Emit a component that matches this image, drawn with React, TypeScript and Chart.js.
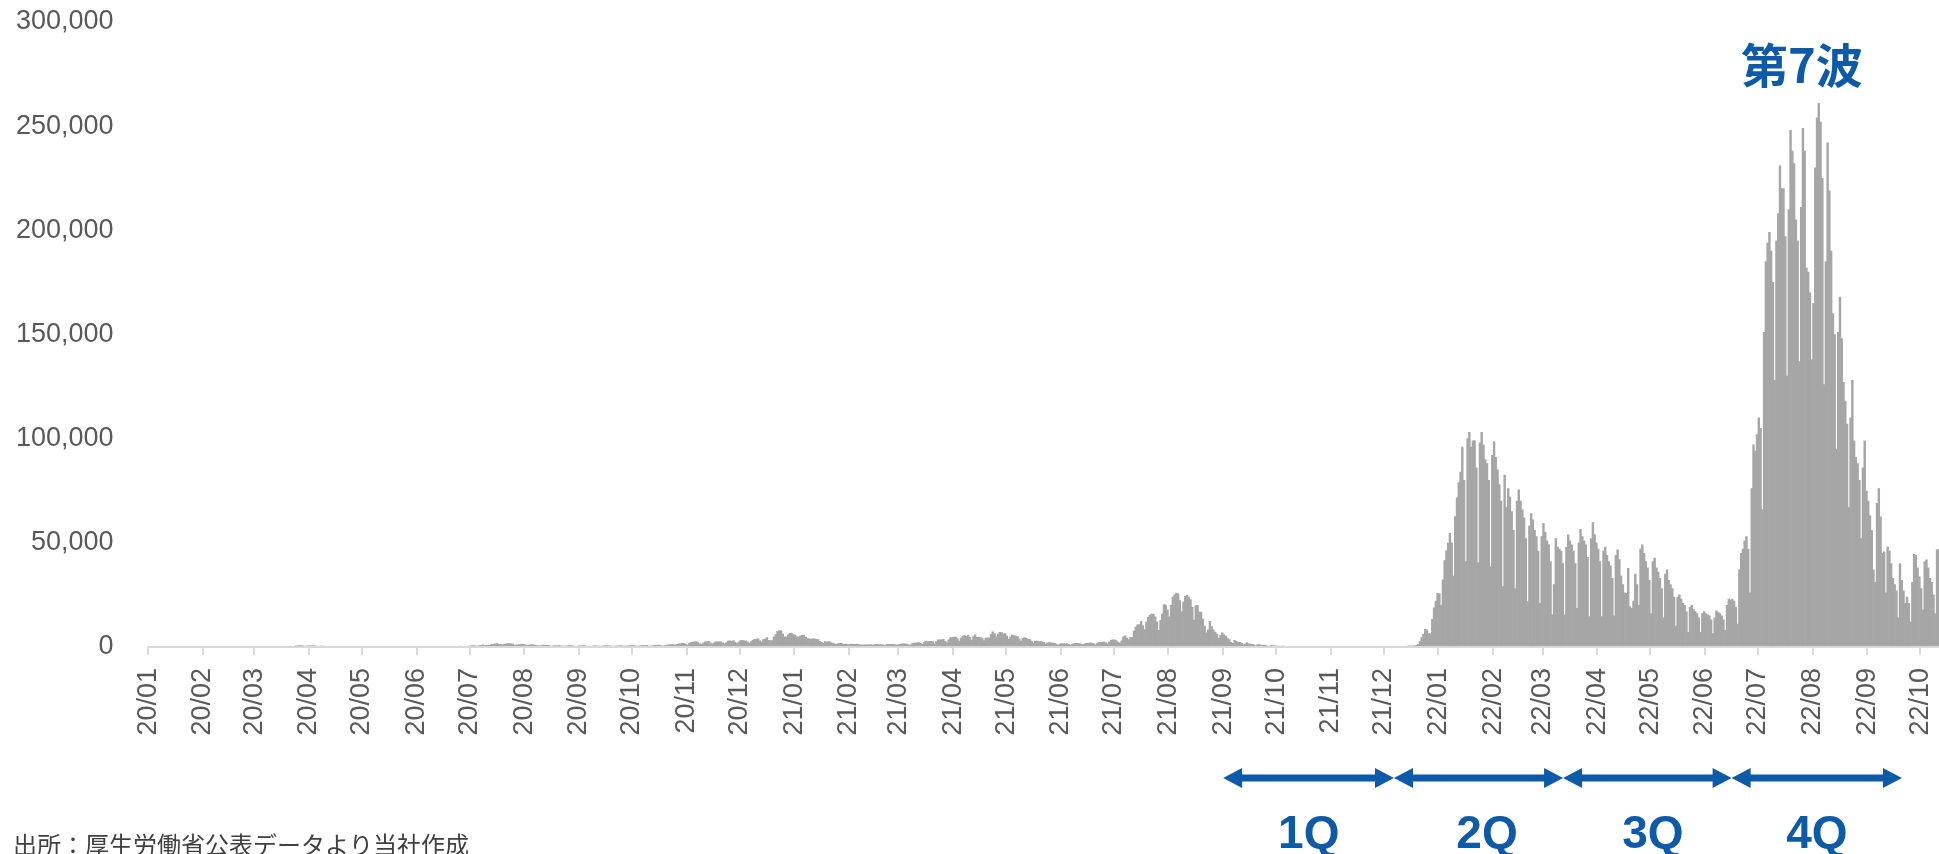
import React, { useEffect, useRef } from "react";
import { Chart, registerables } from "chart.js";

Chart.register(...registerables);
Chart.defaults.font.family = "'Liberation Sans', Arial, sans-serif";

// ---- axis / annotation texts ----
const monthLabels = [
  "20/01", "20/02", "20/03", "20/04", "20/05", "20/06", "20/07", "20/08", "20/09", "20/10", "20/11", "20/12",
  "21/01", "21/02", "21/03", "21/04", "21/05", "21/06", "21/07", "21/08", "21/09", "21/10", "21/11", "21/12",
  "22/01", "22/02", "22/03", "22/04", "22/05", "22/06", "22/07", "22/08", "22/09", "22/10",
];
const quarterLabels = ["1Q", "2Q", "3Q", "4Q"];
// arrow boundaries / label centres, in day-slots from the axis start
const quarterBounds = [609, 705.8, 801.6, 897.1, 993.6];
const quarterLabelPos = [657.5, 758.5, 852.5, 945.4];
const waveLabel = "第7波";
const waveLabelPos = 936.9;
const sourceNote = "出所：厚生労働省公表データより当社作成";

// ---- daily new cases (first value = 2020/01/16) ----
const jan20 = [1, 0, 0, 0, 0, 0, 0, 1, 1, 0, 1, 2, 1, 4, 1, 2];
const feb20 = [1, 2, 0, 1, 3, 10, 1, 0, 1, 0, 1, 3, 4, 1, 6, 7, 2, 6, 4, 8, 12, 10, 5, 3, 10, 13, 19, 19, 8];
const mar20 = [13, 18, 15, 31, 30, 38, 47, 26, 33, 26, 54, 56, 52, 42, 63, 15, 45, 38, 39, 36, 44, 39, 38, 65, 93, 96, 112, 200, 173, 86, 225];
const apr20 = [266, 235, 353, 368, 383, 252, 351, 515, 576, 644, 720, 507, 391, 455, 549, 583, 576, 584, 568, 373, 378, 440, 424, 436, 345, 201, 175, 259, 202, 136];
const may20 = [164, 304, 201, 124, 119, 94, 111, 85, 111, 95, 39, 80, 53, 58, 100, 38, 30, 33, 27, 45, 27, 29, 26, 21, 21, 27, 35, 72, 48, 45, 45];
const jun20 = [37, 51, 47, 44, 51, 39, 44, 38, 42, 37, 41, 46, 68, 72, 43, 50, 39, 68, 69, 55, 56, 35, 37, 55, 47, 100, 91, 108, 87, 120];
const jul20 = [123, 127, 200, 260, 206, 108, 180, 206, 238, 425, 296, 249, 206, 351, 397, 469, 668, 662, 513, 417, 626, 794, 983, 719, 860, 852, 836, 1264, 1258, 1580, 1587];
const aug20 = [1364, 1238, 956, 1235, 1353, 1598, 1605, 1566, 1440, 808, 1030, 983, 1179, 1360, 1227, 1011, 627, 946, 1072, 1049, 1029, 778, 733, 563, 708, 890, 848, 768, 779, 608, 440];
const sep20 = [578, 698, 615, 663, 550, 419, 398, 476, 505, 647, 649, 608, 437, 314, 482, 517, 582, 650, 504, 349, 256, 261, 461, 591, 565, 480, 440, 265, 515, 577];
const oct20 = [623, 522, 602, 472, 337, 490, 585, 612, 676, 557, 458, 432, 570, 541, 689, 654, 622, 476, 424, 584, 641, 749, 696, 753, 498, 471, 589, 661, 809, 747, 893];
const nov20 = [630, 491, 704, 622, 1036, 1148, 1309, 1221, 957, 1271, 1546, 1659, 1706, 1735, 1437, 949, 1694, 2201, 2386, 2427, 2596, 2168, 1517, 1227, 1927, 2497, 2508, 2684, 2061, 1434];
const dec20 = [2031, 2428, 2514, 2430, 2510, 2029, 1492, 2032, 2815, 2971, 2772, 3039, 2379, 1680, 2383, 3108, 3211, 2992, 2941, 2504, 1809, 2658, 3243, 3741, 3823, 3880, 2948, 2395, 3570, 3852, 4520];

const jan21 = [3251, 3044, 3136, 4875, 6001, 7570, 7882, 7790, 6189, 4885, 4922, 5789, 6597, 6556, 5993, 5754, 4900, 4928, 5320, 5626, 5655, 4727, 3983, 3980, 3853, 3962, 3946, 3720, 3524, 2697, 2270];
const feb21 = [1792, 2632, 2344, 2573, 2367, 1933, 1602, 1248, 1564, 1708, 1778, 1354, 1372, 1364, 1018, 1316, 1404, 1285, 1307, 1367, 1170, 1081, 923, 1021, 1077, 1025, 1035, 1191];
const mar21 = [908, 1174, 1230, 1174, 1115, 1062, 990, 651, 1315, 1321, 1286, 1320, 1290, 1055, 958, 1289, 1418, 1474, 1473, 1366, 1117, 819, 1518, 1895, 1917, 2049, 2086, 1785, 1241, 2088, 2842];
const apr21 = [2612, 2765, 2771, 2461, 1575, 2650, 3449, 3451, 3453, 3697, 2778, 2099, 3445, 4563, 4568, 4801, 4800, 4097, 2861, 4341, 5269, 5500, 5116, 5605, 4606, 3310, 5041, 5822, 4670, 4671];
const may21 = [4629, 4038, 3114, 4314, 4407, 4358, 6054, 7244, 6477, 4921, 6217, 7055, 6872, 6271, 6413, 5235, 3662, 4894, 5736, 5534, 5267, 4999, 3841, 2892, 4154, 4534, 4144, 3690, 3564, 2800, 1903];
const jun21 = [2740, 2889, 2625, 2681, 2533, 2211, 1427, 1956, 2072, 1943, 1937, 1940, 1398, 974, 1453, 1634, 1556, 1517, 1598, 1299, 934, 1427, 1683, 1747, 1711, 1601, 1376, 1148, 1553, 1762];
const jul21 = [1763, 2000, 1822, 1653, 1034, 1600, 2183, 2211, 2259, 2435, 1959, 1511, 2383, 3190, 3417, 3411, 3055, 2327, 1809, 3016, 4941, 5397, 4224, 3574, 4692, 4692, 7629, 9576, 10693, 10743, 12341];
const aug21 = [10187, 8392, 12000, 14207, 15263, 15753, 15753, 14472, 12065, 7950, 12854, 15810, 20366, 20151, 17828, 14423, 19947, 23909, 25150, 25876, 25492, 22243, 16825, 21534, 24326, 24972, 24046, 22746, 19003, 12929, 19849];
const sep21 = [20017, 16763, 16741, 13410, 10081, 6771, 8205, 12379, 9744, 8219, 7175, 6223, 4141, 5718, 6753, 5786, 5197, 4146, 3570, 2215, 1797, 3229, 2676, 2091, 2221, 1717, 1128, 1431, 2129, 1577];
const oct21 = [1436, 1306, 1034, 620, 1134, 1128, 879, 798, 768, 636, 372, 609, 755, 609, 505, 472, 429, 232, 391, 442, 368, 343, 308, 311, 155, 274, 294, 238, 277, 230, 219];
const nov21 = [87, 140, 155, 163, 155, 165, 161, 104, 120, 200, 188, 197, 145, 134, 78, 136, 163, 148, 134, 159, 109, 50, 88, 77, 118, 113, 144, 124, 84, 131];
const dec21 = [134, 122, 121, 140, 113, 89, 120, 151, 162, 167, 179, 144, 99, 158, 163, 193, 145, 180, 171, 105, 265, 268, 278, 260, 242, 185, 186, 276, 389, 502, 436];

const jan22 = [534, 554,
  782, 1265, 2638, 4475, 6214, 8480, 8249,
  6438, 6377, 13244, 18860, 22045, 25742, 25631,
  20000, 32197, 41485, 46199, 49854, 54576, 50000,
  34000, 62600, 71600, 78900, 84000, 96000, 80000,
  41000];
const feb22 = [100000, 103000, 96000, 99000, 99000, 86000,
  40500, 98000, 103000, 97000, 90000, 88000, 80000,
  38600, 92000, 98600, 91000, 85000, 78000, 70000,
  29000, 82500, 67000, 76000, 72000, 65000, 56000,
  28000];
const mar22 = [70000, 75400, 70000, 66000, 62000, 52000,
  21800, 58000, 64000, 61000, 56000, 53000, 46000,
  21000, 53000, 59400, 55000, 51000, 49000, 41000,
  15400, 30000, 52000, 48000, 47000, 46000, 40000,
  15400, 48000, 53800, 51000];
const apr22 = [49000, 46000, 40000,
  18600, 50000, 56500, 53000, 51000, 49000, 43000,
  14600, 52000, 59700, 54000, 50000, 47000, 41000,
  14600, 46000, 48000, 44000, 41000, 39000, 33000,
  15000, 44000, 46600, 42000, 34000, 30000];
const may22 = [26000,
  25800, 37800, 19400, 18600, 22000, 35000, 30000,
  20000, 47000, 49000, 45000, 41000, 38000, 32000,
  16000, 41000, 42700, 38000, 36000, 33000, 28000,
  14000, 35000, 37000, 32000, 30000, 28000, 24000,
  10000, 24000];
const jun22 = [25000, 23000, 21000, 20000, 17000,
  7000, 19000, 20000, 18000, 17000, 16000, 14000,
  7000, 16000, 17000, 16000, 15500, 15000, 13000,
  6500, 14000, 17400, 16500, 16000, 15000, 13000,
  8000, 20000, 23000, 22500];
const jul22 = [23000, 22000, 19000,
  11000, 37000, 45000, 47000, 51000, 53000, 47000,
  26000, 76000, 97000, 94000, 102000, 110000, 105000,
  66000, 151000, 185000, 194000, 199000, 190000, 175000,
  128000, 195000, 208000, 231000, 220000, 220000, 197000];
const aug22 = [130000, 210000, 248000, 238000, 232000, 205000, 195000,
  137000, 211000, 249000, 238000, 182000, 180000, 170000,
  138000, 165000, 230000, 254000, 261000, 252000, 225000,
  126000, 185000, 242000, 219000, 190000, 160000, 150000,
  95000, 151000, 168000];
const sep22 = [148000, 127000, 118000, 107000,
  67000, 110000, 128000, 99000, 91000, 88000, 80000,
  52000, 86000, 99000, 75000, 70000, 63000, 56000,
  37000, 31000, 69000, 76000, 62500, 45000, 45700,
  26000, 48000, 46000, 40000, 33000];
const oct22 = [30000, 27000,
  14000, 40000, 32000, 27000, 21000, 24000, 21000,
  12000, 31000, 44500, 44000, 38000, 33700, 28000,
  17800, 41000, 41800, 38000, 33000, 31000, 25000,
  16000, 46600, 47000, 45000];

const monthlyCases = [
  jan20, feb20, mar20, apr20, may20, jun20, jul20, aug20, sep20, oct20, nov20, dec20,
  jan21, feb21, mar21, apr21, may21, jun21, jul21, aug21, sep21, oct21, nov21, dec21,
  jan22, feb22, mar22, apr22, may22, jun22, jul22, aug22, sep22, oct22,
];
const dailyCases: number[] = monthlyCases.flat();

const yMax = 300000;
const yStep = 50000;
const xVisibleSlots = 1014.6;

const DAY = 86400000;
const tickPositions = monthLabels.map((l) => {
  const yy = 2000 + parseInt(l.slice(0, 2), 10);
  const mm = parseInt(l.slice(3, 5), 10) - 1;
  return (Date.UTC(yy, mm, 1) - Date.UTC(2020, 0, 1)) / DAY;
});

const W = 1939;
const H = 854;
const BLUE = "#0d5aa9";

const annotationPlugin = {
  id: "annotations",
  afterDraw(chart: any) {
    const { ctx } = chart;
    const xs = chart.scales.x;
    ctx.save();
    const y = 778;
    const head = 19;
    const halfH = 10;
    const shaft = 7;
    ctx.fillStyle = BLUE;
    for (let q = 0; q < quarterLabels.length; q++) {
      const a = xs.getPixelForValue(quarterBounds[q]);
      const b = xs.getPixelForValue(quarterBounds[q + 1]);
      ctx.fillRect(a + head - 1, y - shaft / 2, b - a - 2 * head + 2, shaft);
      ctx.beginPath();
      ctx.moveTo(a, y);
      ctx.lineTo(a + head, y - halfH);
      ctx.lineTo(a + head, y + halfH);
      ctx.closePath();
      ctx.fill();
      ctx.beginPath();
      ctx.moveTo(b, y);
      ctx.lineTo(b - head, y - halfH);
      ctx.lineTo(b - head, y + halfH);
      ctx.closePath();
      ctx.fill();
      ctx.font = "bold 46px 'Liberation Sans', Arial, sans-serif";
      ctx.textAlign = "center";
      ctx.textBaseline = "alphabetic";
      ctx.fillText(quarterLabels[q], xs.getPixelForValue(quarterLabelPos[q]), 848);
    }

    ctx.font = "bold 47px 'Noto Sans CJK JP', sans-serif";
    ctx.textAlign = "center";
    ctx.textBaseline = "middle";
    ctx.fillText(waveLabel, xs.getPixelForValue(waveLabelPos), 65);

    ctx.fillStyle = "#404040";
    ctx.font = "24px 'Noto Sans CJK JP', sans-serif";
    ctx.textAlign = "left";
    ctx.textBaseline = "top";
    ctx.fillText(sourceNote, 13, 833);
    ctx.restore();
  },
};

export default function App() {
  const ref = useRef<HTMLCanvasElement>(null);

  useEffect(() => {
    const canvas = ref.current;
    if (!canvas) return;
    const chart = new Chart(canvas, {
      type: "bar",
      data: {
        datasets: [
          {
            label: "新規陽性者数",
            data: dailyCases.map((v, i) => ({ x: i + 0.5, y: v })),
            backgroundColor: "#a6a6a6",
            borderWidth: 0,
            barPercentage: 1,
            categoryPercentage: 1,
          },
        ],
      },
      options: {
        responsive: false,
        animation: false,
        devicePixelRatio: 1,
        layout: { padding: { top: 22, left: 0, right: 0, bottom: 0 } },
        plugins: {
          legend: { display: false },
          tooltip: { enabled: false },
          title: { display: false },
        },
        scales: {
          x: {
            type: "linear",
            min: 0,
            max: xVisibleSlots,
            bounds: "data",
            offset: false,
            afterBuildTicks: (scale: any) => {
              scale.ticks = tickPositions.map((v) => ({ value: v }));
            },
            afterFit: (scale: any) => {
              scale.height = H - 647;
              scale.paddingLeft = 0;
              scale.paddingRight = 0;
            },
            grid: {
              display: true,
              offset: false,
              drawOnChartArea: false,
              drawTicks: true,
              tickLength: 8,
              color: "#d9d9d9",
              lineWidth: 2,
            },
            border: { display: true, color: "#d9d9d9", width: 2, z: 1 },
            ticks: {
              autoSkip: false,
              minRotation: 90,
              maxRotation: 90,
              padding: 13,
              color: "#595959",
              font: { size: 27 },
              callback: (_v: any, idx: number) => monthLabels[idx],
            },
          },
          y: {
            type: "linear",
            min: 0,
            max: yMax,
            afterFit: (scale: any) => {
              scale.width = 148.3;
              scale.paddingTop = 0;
              scale.paddingBottom = 0;
            },
            grid: { display: false, drawTicks: false, tickLength: 0 },
            border: { display: false },
            ticks: {
              stepSize: yStep,
              padding: 34.8,
              color: "#595959",
              font: { size: 27 },
              callback: (v: any) => Number(v).toLocaleString("en-US"),
            },
          },
        },
      },
      plugins: [annotationPlugin],
    });
    return () => chart.destroy();
  }, []);

  return (
    <div
      style={{
        position: "fixed",
        left: 0,
        top: 0,
        width: W,
        height: H,
        overflow: "hidden",
        background: "#ffffff",
      }}
    >
      <canvas
        ref={ref}
        width={W}
        height={H}
        style={{ width: `${W}px`, height: `${H}px`, display: "block" }}
      />
    </div>
  );
}
